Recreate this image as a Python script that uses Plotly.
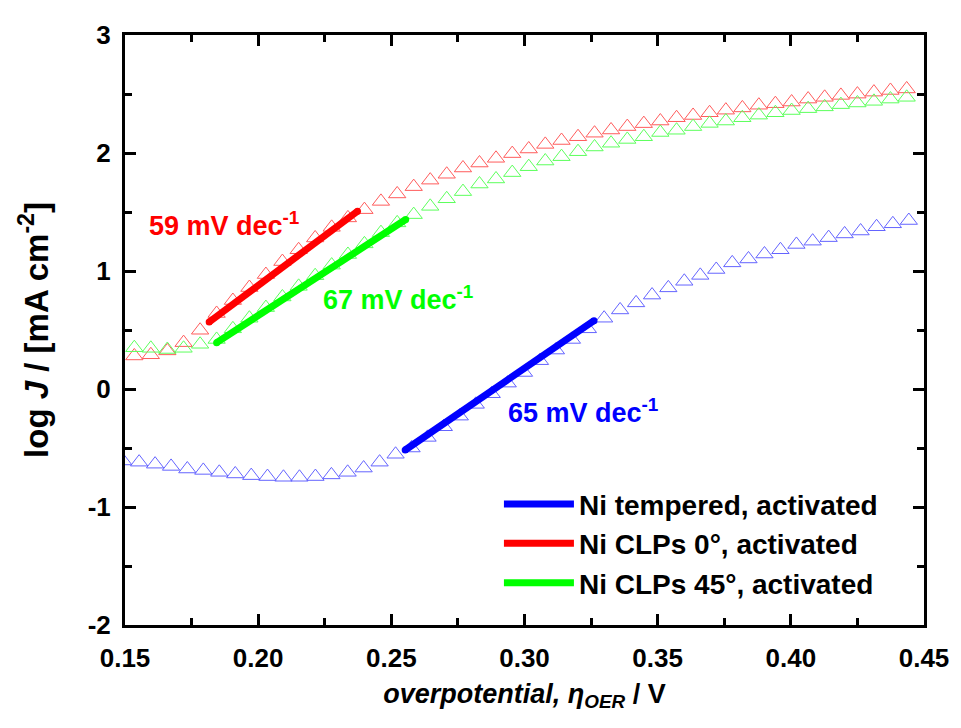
import plotly.graph_objects as go

# ---- data ----
x_blue = [0.1493, 0.1553, 0.1613, 0.1673, 0.1734, 0.1794, 0.1854, 0.1914, 0.1974, 0.2035,
          0.2095, 0.2155, 0.2215, 0.2275, 0.2336, 0.2396, 0.2456, 0.2516, 0.2576, 0.2636,
          0.2697, 0.2757, 0.2817, 0.2877, 0.2937, 0.2998, 0.3058, 0.3118, 0.3178, 0.3238,
          0.3299, 0.3359, 0.3419, 0.3479, 0.3540, 0.3600, 0.3660, 0.3720, 0.3780, 0.3841,
          0.3901, 0.3961, 0.4021, 0.4082, 0.4142, 0.4202, 0.4262, 0.4322, 0.4383, 0.4443]
y_blue = [-0.61, -0.62, -0.637, -0.656, -0.678, -0.69, -0.706, -0.72, -0.734, -0.742,
          -0.748, -0.748, -0.742, -0.728, -0.706, -0.67, -0.62, -0.553, -0.50, -0.41,
          -0.32, -0.23, -0.13, -0.04, 0.05, 0.14, 0.24, 0.33, 0.42, 0.51,
          0.60, 0.67, 0.73, 0.796, 0.857, 0.913, 0.963, 1.013, 1.069, 1.102,
          1.144, 1.18, 1.225, 1.253, 1.283, 1.314, 1.339, 1.375, 1.40, 1.428]

x_clp = [0.1535, 0.1597, 0.1659, 0.1720, 0.1782, 0.1844, 0.1905, 0.1967, 0.2029, 0.2091,
         0.2152, 0.2214, 0.2276, 0.2337, 0.2399, 0.2461, 0.2522, 0.2584, 0.2646, 0.2708,
         0.2769, 0.2831, 0.2893, 0.2954, 0.3016, 0.3078, 0.3139, 0.3201, 0.3263, 0.3325,
         0.3386, 0.3448, 0.3510, 0.3571, 0.3633, 0.3695, 0.3756, 0.3818, 0.3880, 0.3942,
         0.4003, 0.4065, 0.4127, 0.4188, 0.4250, 0.4312, 0.4374, 0.4435]
y_red = [0.28, 0.29, 0.323, 0.393, 0.498, 0.64, 0.75, 0.86, 0.97, 1.08,
         1.18, 1.28, 1.37, 1.45, 1.52, 1.59, 1.653, 1.715, 1.770, 1.820,
         1.873, 1.915, 1.955, 1.995, 2.034, 2.073, 2.106, 2.138, 2.168, 2.195,
         2.224, 2.249, 2.271, 2.299, 2.318, 2.341, 2.363, 2.382, 2.405, 2.418,
         2.432, 2.457, 2.472, 2.488, 2.499, 2.516, 2.53, 2.543]
y_green = [0.35, 0.345, 0.335, 0.345, 0.379, 0.42, 0.51, 0.60, 0.69, 0.78,
           0.87, 0.96, 1.05, 1.14, 1.23, 1.325, 1.408, 1.478, 1.548, 1.612,
           1.673, 1.737, 1.78, 1.834, 1.884, 1.932, 1.969, 2.011, 2.051, 2.083,
           2.115, 2.138, 2.174, 2.193, 2.224, 2.251, 2.271, 2.299, 2.321, 2.341,
           2.36, 2.376, 2.391, 2.41, 2.424, 2.438, 2.457, 2.472]

# Tafel fit segments (end points)
fit_blue_x = [0.2552, 0.3261]
fit_blue_y = [-0.517, 0.579]
fit_red_x = [0.1816, 0.2373]
fit_red_y = [0.568, 1.506]
fit_green_x = [0.1844, 0.2554]
fit_green_y = [0.393, 1.436]

legend_names = ["Ni tempered, activated", "Ni CLPs 0°, activated", "Ni CLPs 45°, activated"]
slope_labels = ["65 mV dec<sup>-1</sup>", "59 mV dec<sup>-1</sup>", "67 mV dec<sup>-1</sup>"]
slope_pos_x = [0.3218, 0.1871, 0.2525]
slope_pos_y = [-0.19, 1.40, 0.77]

x_ticks = [0.15, 0.20, 0.25, 0.30, 0.35, 0.40, 0.45]
x_ticklabels = ["0.15", "0.20", "0.25", "0.30", "0.35", "0.40", "0.45"]
y_ticks = [-2, -1, 0, 1, 2, 3]
y_ticklabels = ["-2", "-1", "0", "1", "2", "3"]

FONT = "Liberation Sans, Arial, sans-serif"
line_cols = ["#0000FF", "#FF0000", "#00FF00"]
mark_cols = ["#6464FF", "#FF5C5C", "#5CFF5C"]

fig = go.Figure()

for xs, ys, mc in [(x_blue, y_blue, mark_cols[0]), (x_clp, y_red, mark_cols[1]),
                   (x_clp, y_green, mark_cols[2])]:
    fig.add_trace(go.Scatter(x=xs, y=ys, mode="markers", showlegend=False,
                             marker=dict(symbol="triangle-up-open", size=15,
                                         color=mc, line=dict(width=1, color=mc))))

fits = [(fit_blue_x, fit_blue_y), (fit_red_x, fit_red_y), (fit_green_x, fit_green_y)]
for (fx, fy), col, name in zip(fits, line_cols, legend_names):
    fig.add_trace(go.Scatter(x=fx, y=fy, mode="lines", name=name,
                             line=dict(color=col, width=7)))
    fig.add_trace(go.Scatter(x=fx, y=fy, mode="markers", showlegend=False,
                             marker=dict(symbol="circle", size=7, color=col,
                                         line=dict(width=0))))

for txt, ax_, ay_, col in zip(slope_labels, slope_pos_x, slope_pos_y, line_cols):
    fig.add_annotation(x=ax_, y=ay_, text=txt, showarrow=False,
                       font=dict(family=FONT, size=27, color=col, weight="bold"))

axis_common = dict(showline=True, linewidth=3, linecolor="black", mirror="ticks",
                   ticks="inside", ticklen=11, tickwidth=3, tickcolor="black",
                   showgrid=False, zeroline=False,
                   tickfont=dict(family=FONT, size=26, color="black", weight="bold"))

fig.update_xaxes(range=[0.15, 0.45], tickvals=x_ticks, ticktext=x_ticklabels,
                 minor=dict(ticks="inside", ticklen=7, tickwidth=3, tickcolor="black", dtick=0.025,
                            tick0=0.15),
                 title=dict(text="<i>overpotential, η<sub>OER</sub></i> / V",
                            font=dict(family=FONT, size=27, color="black", weight="bold"),
                            standoff=12),
                 ticklabelstandoff=8, **axis_common)
fig.update_yaxes(range=[-2, 3], tickvals=y_ticks, ticktext=y_ticklabels,
                 minor=dict(ticks="inside", ticklen=7, tickwidth=3, tickcolor="black", dtick=0.5,
                            tick0=-2),
                 title=dict(text="log <i>J</i> / [mA cm<sup>-2</sup>]",
                            font=dict(family=FONT, size=33, color="black", weight="bold"),
                            standoff=30),
                 ticklabelstandoff=6, **axis_common)

# the page body adds an 8 px offset, so the figure is sized to fit the window
fig.update_layout(width=953, height=720, plot_bgcolor="white", paper_bgcolor="white",
                  margin=dict(l=117, r=28, t=18, b=103),
                  legend=dict(x=0.468, y=0.247, xanchor="left", yanchor="top",
                              bgcolor="rgba(0,0,0,0)", borderwidth=0,
                              font=dict(family=FONT, size=28, color="black", weight="bold"),
                              tracegroupgap=0, itemwidth=70))

fig.write_html("out.html")
